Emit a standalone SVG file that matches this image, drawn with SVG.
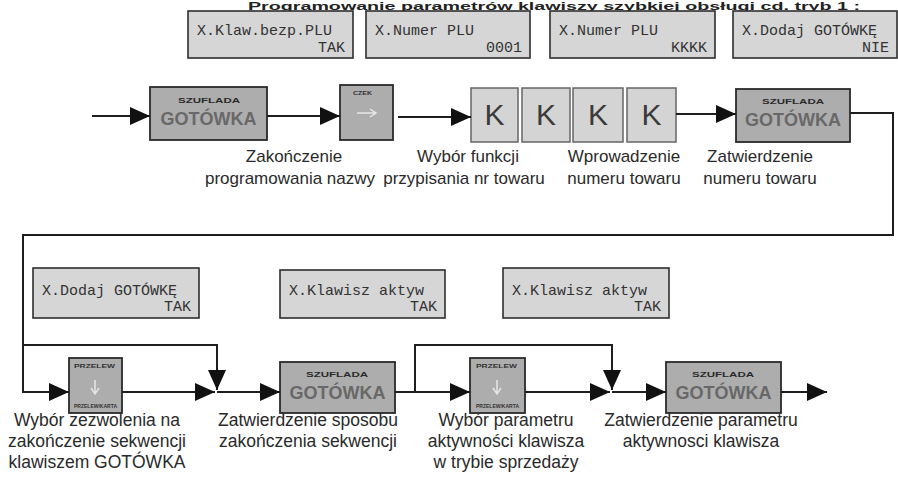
<svg xmlns="http://www.w3.org/2000/svg" width="898" height="490" viewBox="0 0 898 490">
<style>
.lcd{fill:#d6d6d6;stroke:#2e2e2e;stroke-width:1.6}
.lt{font-family:"Liberation Mono","DejaVu Sans Mono",monospace;font-size:15px;fill:#333}
.key{fill:#adadad;stroke:#2a2a2a;stroke-width:1.8}
.kk{fill:#d4d4d4;stroke:#666;stroke-width:1.5}
.sz{font-family:"Liberation Sans",Arial,sans-serif;font-weight:bold;font-size:7px;fill:#2a2a2a}
.gt{font-family:"Liberation Sans",Arial,sans-serif;font-weight:bold;font-size:18px;fill:#686868}
.kt{font-family:"Liberation Sans",Arial,sans-serif;font-size:30px;fill:#3a3a3a}
.tiny{font-family:"Liberation Sans",Arial,sans-serif;font-weight:bold;font-size:5px;fill:#333}
.lb{font-family:"Liberation Sans",Arial,sans-serif;font-size:17px;fill:#2a2a2a;text-anchor:middle}
.lb2{font-family:"Liberation Sans",Arial,sans-serif;font-size:17.5px;fill:#2a2a2a;text-anchor:middle}
.ln{fill:none;stroke:#1e1e1e;stroke-width:2}
</style>
<defs>
<marker id="ah" markerUnits="userSpaceOnUse" markerWidth="20" markerHeight="18" refX="20" refY="9" orient="auto">
<path d="M0,0 L20,9 L0,18 z" fill="#111"/>
</marker>
</defs>
<rect width="898" height="490" fill="#fff"/>
<text x="248" y="9.5" textLength="612" lengthAdjust="spacingAndGlyphs" style="font-family:'Liberation Sans',Arial,sans-serif;font-weight:bold;font-size:10.5px;fill:#222">Programowanie parametrów klawiszy szybkiej obsługi cd. tryb 1 :</text>

<g id="lcd1"><rect class="lcd" x="188" y="11" width="165" height="47"/><text class="lt" x="197" y="35">X.Klaw.bezp.PLU</text><text class="lt" x="345" y="52" text-anchor="end">TAK</text></g>
<g id="lcd2"><rect class="lcd" x="366" y="11" width="164" height="47"/><text class="lt" x="375" y="35">X.Numer PLU</text><text class="lt" x="522" y="52" text-anchor="end">0001</text></g>
<g id="lcd3"><rect class="lcd" x="550" y="11" width="165" height="47"/><text class="lt" x="559" y="35">X.Numer PLU</text><text class="lt" x="707" y="52" text-anchor="end">KKKK</text></g>
<g id="lcd4"><rect class="lcd" x="733" y="11" width="164" height="47"/><text class="lt" x="742" y="35">X.Dodaj GOTÓWKĘ</text><text class="lt" x="889" y="52" text-anchor="end">NIE</text></g>

<g id="lcd5"><rect class="lcd" x="33" y="268" width="166" height="50"/><text class="lt" x="42" y="295">X.Dodaj GOTÓWKĘ</text><text class="lt" x="191" y="311" text-anchor="end">TAK</text></g>
<g id="lcd6"><rect class="lcd" x="280" y="270" width="165" height="48"/><text class="lt" x="289" y="295">X.Klawisz aktyw</text><text class="lt" x="437" y="311" text-anchor="end">TAK</text></g>
<g id="lcd7"><rect class="lcd" x="503" y="268" width="166" height="50"/><text class="lt" x="512" y="295">X.Klawisz aktyw</text><text class="lt" x="661" y="311" text-anchor="end">TAK</text></g>

<g id="gotowka1"><rect class="key" x="150" y="87" width="117" height="53"/><text class="sz" x="178" y="103" textLength="62" lengthAdjust="spacingAndGlyphs">SZUFLADA</text><text class="gt" x="208.5" y="125" text-anchor="middle">GOTÓWKA</text></g>
<g id="czek"><rect class="key" x="340" y="85" width="53" height="55"/><text class="tiny" x="353" y="95" textLength="19" lengthAdjust="spacingAndGlyphs">CZEK</text><path d="M357,113 L375,113 M370,109 L376,113 L370,117" fill="none" stroke="#e6e6e6" stroke-width="1.5"/></g>
<g id="k1"><rect class="kk" x="471" y="88" width="47" height="54"/><text class="kt" x="494.5" y="125" text-anchor="middle">K</text></g>
<g id="k2"><rect class="kk" x="522" y="88" width="48" height="54"/><text class="kt" x="546" y="125" text-anchor="middle">K</text></g>
<g id="k3"><rect class="kk" x="573" y="88" width="50" height="54"/><text class="kt" x="598" y="125" text-anchor="middle">K</text></g>
<g id="k4"><rect class="kk" x="627" y="88" width="49" height="54"/><text class="kt" x="651.5" y="125" text-anchor="middle">K</text></g>
<g id="gotowka2"><rect class="key" x="736" y="89" width="114" height="53"/><text class="sz" x="762" y="104" textLength="62" lengthAdjust="spacingAndGlyphs">SZUFLADA</text><text class="gt" x="793" y="126" text-anchor="middle">GOTÓWKA</text></g>

<g id="przelew1"><rect class="key" x="69" y="358" width="53" height="55"/><text class="tiny" x="74" y="368" textLength="41" lengthAdjust="spacingAndGlyphs">PRZELEW</text><path d="M95,380 L95,393 M91,388 L95,394 L99,388" fill="none" stroke="#e6e6e6" stroke-width="1.5"/><text class="tiny" x="74" y="408" textLength="43" lengthAdjust="spacingAndGlyphs">PRZELEW/KARTA</text></g>
<g id="gotowka3"><rect class="key" x="280" y="362" width="115" height="51"/><text class="sz" x="306" y="377" textLength="62" lengthAdjust="spacingAndGlyphs">SZUFLADA</text><text class="gt" x="337.5" y="399" text-anchor="middle">GOTÓWKA</text></g>
<g id="przelew2"><rect class="key" x="470" y="358" width="55" height="55"/><text class="tiny" x="476" y="368" textLength="41" lengthAdjust="spacingAndGlyphs">PRZELEW</text><path d="M497,380 L497,393 M493,388 L497,394 L501,388" fill="none" stroke="#e6e6e6" stroke-width="1.5"/><text class="tiny" x="476" y="408" textLength="43" lengthAdjust="spacingAndGlyphs">PRZELEW/KARTA</text></g>
<g id="gotowka4"><rect class="key" x="666" y="362" width="115" height="51"/><text class="sz" x="692" y="377" textLength="62" lengthAdjust="spacingAndGlyphs">SZUFLADA</text><text class="gt" x="723.5" y="399" text-anchor="middle">GOTÓWKA</text></g>

<g id="connectors">
<path class="ln" d="M92,116 L150,116" marker-end="url(#ah)"/>
<path class="ln" d="M267,116 L340,116" marker-end="url(#ah)"/>
<path class="ln" d="M398,117 L471,117" marker-end="url(#ah)"/>
<path class="ln" d="M676,114 L736,114" marker-end="url(#ah)"/>
<path class="ln" d="M850,113 L893,113 L893,235 L23,235 L23,392 L69,392" marker-end="url(#ah)"/>
<path class="ln" d="M23,345 L217,345 L217,390" marker-end="url(#ah)"/>
<path class="ln" d="M122,392 L215,392" marker-end="url(#ah)"/>
<path class="ln" d="M217,392 L280,392" marker-end="url(#ah)"/>
<path class="ln" d="M395,392 L470,392" marker-end="url(#ah)"/>
<path class="ln" d="M415,392 L415,345 L612,345 L612,390" marker-end="url(#ah)"/>
<path class="ln" d="M525,392 L610,392" marker-end="url(#ah)"/>
<path class="ln" d="M612,392 L666,392" marker-end="url(#ah)"/>
<path class="ln" d="M781,392 L827,392" marker-end="url(#ah)"/>
</g>

<g id="labels">
<text class="lb" x="294" y="162">Zakończenie</text>
<text class="lb" x="290" y="184">programowania nazwy</text>
<text class="lb" x="468" y="162">Wybór funkcji</text>
<text class="lb" x="464" y="184">przypisania nr towaru</text>
<text class="lb" x="624" y="162">Wprowadzenie</text>
<text class="lb" x="624" y="184">numeru towaru</text>
<text class="lb" x="760" y="162">Zatwierdzenie</text>
<text class="lb" x="760" y="184">numeru towaru</text>
<text class="lb2" x="97" y="426">Wybór zezwolenia na</text>
<text class="lb2" x="97" y="447">zakończenie sekwencji</text>
<text class="lb2" x="97" y="468">klawiszem GOTÓWKA</text>
<text class="lb2" x="308" y="426">Zatwierdzenie sposobu</text>
<text class="lb2" x="308" y="447">zakończenia sekwencji</text>
<text class="lb2" x="506" y="426">Wybór parametru</text>
<text class="lb2" x="506" y="447">aktywności klawisza</text>
<text class="lb2" x="506" y="468">w trybie sprzedaży</text>
<text class="lb2" x="701" y="426">Zatwierdzenie parametru</text>
<text class="lb2" x="701" y="447">aktywnosci klawisza</text>
</g>
</svg>
